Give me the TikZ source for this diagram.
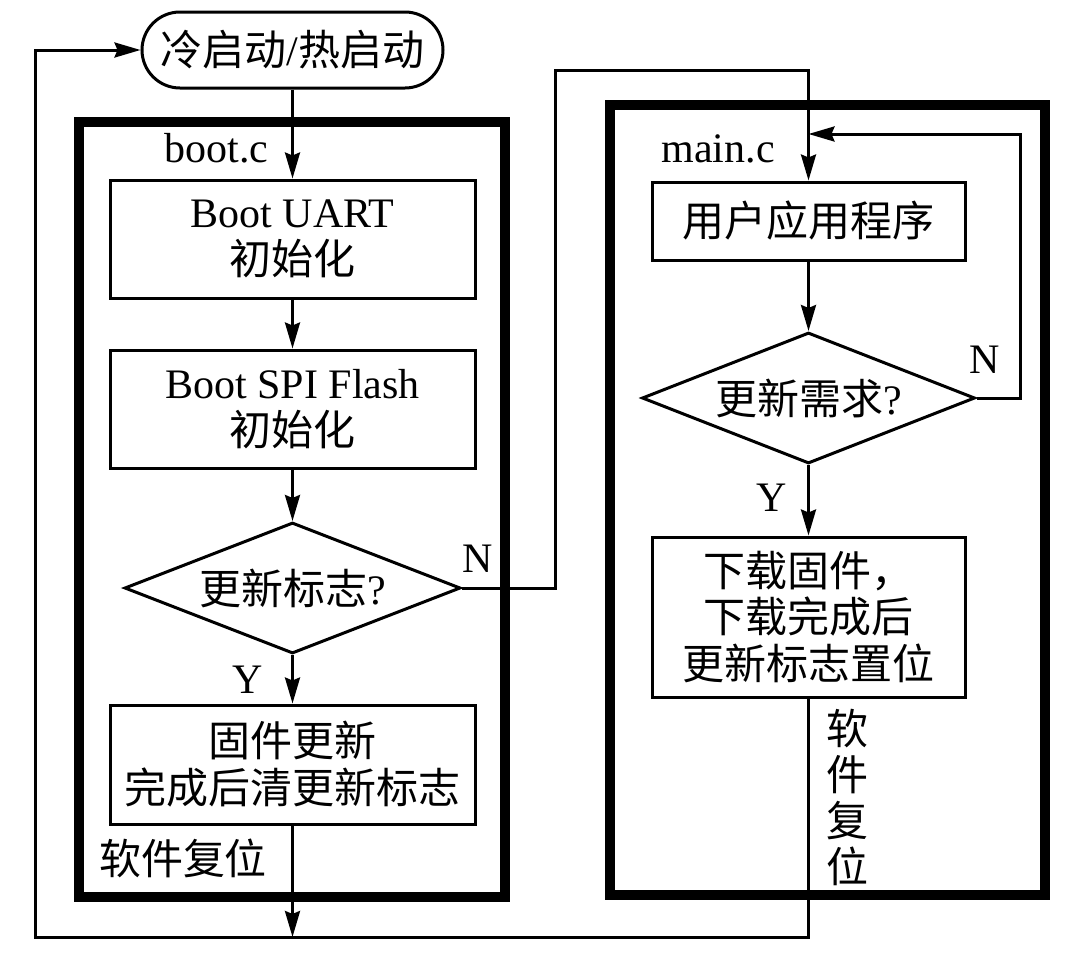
\documentclass[tikz,border=0pt]{standalone}
\usepackage{fontspec}
\setmainfont{Liberation Serif}
\newfontfamily\cjk{Noto Sans CJK SC}
\usetikzlibrary{shapes.geometric,arrows.meta}
\begin{document}
\begin{tikzpicture}[x=1pt,y=-1pt,
  line width=3pt,
  >={Stealth[length=26pt,width=15pt,inset=3pt]},
  every node/.style={font=\fontsize{42}{47}\selectfont},
  box/.style={draw, line width=3pt, align=center, inner sep=0pt},
  frame/.style={draw, line width=10pt, inner sep=0pt},
  decision/.style={diamond, draw, line width=3pt, aspect=2.5, inner sep=0pt},
  lbl/.style={inner sep=0pt}]
\useasboundingbox (0,0) rectangle (1080,956);

% frames
\node[frame, minimum width=426pt, minimum height=775pt] (fl) at (292,509.5) {};
\node[frame, minimum width=435pt, minimum height=790pt] (fr) at (827.5,500) {};

% start
\node[draw, rounded corners=38pt, minimum width=301pt, minimum height=76pt, inner sep=0pt] (start) at (292.5,50) {{\cjk 冷启动}/{\cjk 热启动}};

% left column
\node[lbl, anchor=base west] (lb) at (163,162) {boot.c};
\node[box, minimum width=365pt, minimum height=118pt] (b1) at (292.5,239) {Boot UART\\{\cjk 初始化}};
\node[box, minimum width=365pt, minimum height=118pt] (b2) at (292.5,409) {Boot SPI Flash\\{\cjk 初始化}};
\node[decision, minimum width=336pt, minimum height=131pt] (d1) at (292.5,588) {{\cjk 更新标志}?};
\node[box, minimum width=365pt, minimum height=119pt] (b3) at (292.5,764.5) {{\cjk 固件更新}\\{\cjk 完成后清更新标志}};
\node[lbl] (rs1) at (183,858) {\cjk 软件复位};
\node[lbl] (n1) at (478,559) {N};
\node[lbl] (y1) at (248,680) {Y};

% right column
\node[lbl, anchor=base west] (lm) at (660,162) {main.c};
\node[box, minimum width=313pt, minimum height=78pt] (b4) at (808.5,221) {\cjk 用户应用程序};
\node[decision, minimum width=333pt, minimum height=131pt] (d2) at (808.5,398) {{\cjk 更新需求}?};
\node[box, minimum width=313pt, minimum height=160pt, font=\fontsize{42}{46.5}\selectfont] (b5) at (808.5,617) {{\cjk 下载固件，}\\{\cjk 下载完成后}\\{\cjk 更新标志置位}};
\node[lbl, align=center, font=\cjk\fontsize{42}{46}\selectfont] (rs2) at (847,797) {软\\件\\复\\位};
\node[lbl] (n2) at (985,360) {N};
\node[lbl] (y2) at (772,498) {Y};

% helper coordinates
\coordinate (nA) at (555,70);
\coordinate (nB) at (1020,134);
\coordinate (jn) at (808.5,134);
\coordinate (bM) at (292.5,937);
\coordinate (bR) at (808.5,937);
\coordinate (bL) at (35,937);

% connectors
\draw[->] (start) -- (b1);
\draw[->] (b1) -- (b2);
\draw[->] (b2) -- (d1);
\draw[->] (d1) -- (b3);
\draw[->] (b3) -- (bM);
\draw[->] (d1.east) -| (nA) -| (b4.north);
\draw[->] (b4) -- (d2);
\draw[->] (d2) -- (b5);
\draw[->] (d2.east) -| (nB) -- (jn);
\draw[->] (b5.south) -- (bR) -- (bL) |- (start.west);
\end{tikzpicture}
\end{document}
